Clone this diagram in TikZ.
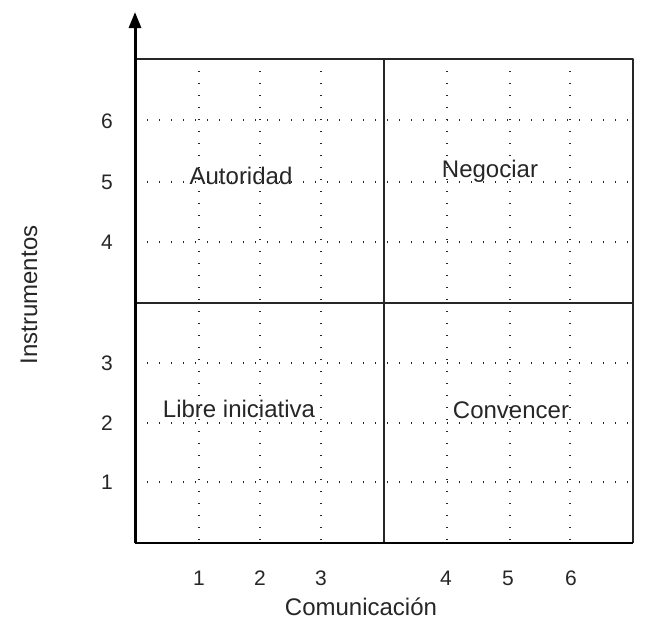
\documentclass[tikz,border=0pt]{standalone}
\usepackage{fontspec}
\setmainfont{Liberation Sans}
\usetikzlibrary{arrows.meta}
\begin{document}
\begin{tikzpicture}[x=1pt,y=-1pt,line join=round,>={Triangle[length=16pt,width=12pt]},
    font=\fontsize{24}{28}\selectfont,
    griddots/.style={line width=1.4pt,black!85,dash pattern=on 1.4pt off 10.6pt},
    midline/.style={line width=1.8pt,black!85},
    quadlabel/.style={inner sep=0pt,anchor=base,text=black!85},
    ticklabel/.style={inner sep=0pt,text=black!85,font=\fontsize{21}{25}\selectfont}]
    \useasboundingbox (0,0) rectangle (666,619);
    % corners of the chart
    \coordinate (origin) at (135,543);
    \coordinate (ytip) at (135,12);
    \coordinate (ytop) at (135,59);
    \coordinate (xend) at (633,543);
    \coordinate (topright) at (633,59);
    % dotted grid
    \foreach \gx in {199,260,321,447,510,570}
        \draw[griddots] (\gx,59)--(\gx,543);
    \foreach \gy in {120,182,242,363,423,482}
        \draw[griddots] (135,\gy)--(633,\gy);
    % frame and quadrants
    \draw[midline] (ytop)--(topright)--(xend);
    \draw[midline] (384,59)--(384,543);
    \draw[midline] (135,303)--(633,303);
    % axes
    \draw[line width=2.4pt] (origin)--(xend);
    \draw[->,line width=3pt] (origin)--(ytip);
    % quadrant names
    \node[quadlabel] (autoridad) at (241,184) {Autoridad};
    \node[quadlabel] (negociar) at (490,177) {Negociar};
    \node[quadlabel] (libre) at (239,417) {Libre iniciativa};
    \node[quadlabel] (convencer) at (511,418) {Convencer};
    % tick numbers
    \foreach \gx/\num in {199/1,260/2,321/3,446/4,508/5,571/6}
        \node[ticklabel] (xnum\num) at (\gx,578) {\num};
    \foreach \gy/\num in {482/1,423/2,363/3,242/4,182/5,121/6}
        \node[ticklabel] (ynum\num) at (107,\gy) {\num};
    % axis names
    \node[quadlabel] (xname) at (361,615) {Comunicación};
    \node[quadlabel,rotate=90] (yname) at (37,295) {Instrumentos};
\end{tikzpicture}
\end{document}
